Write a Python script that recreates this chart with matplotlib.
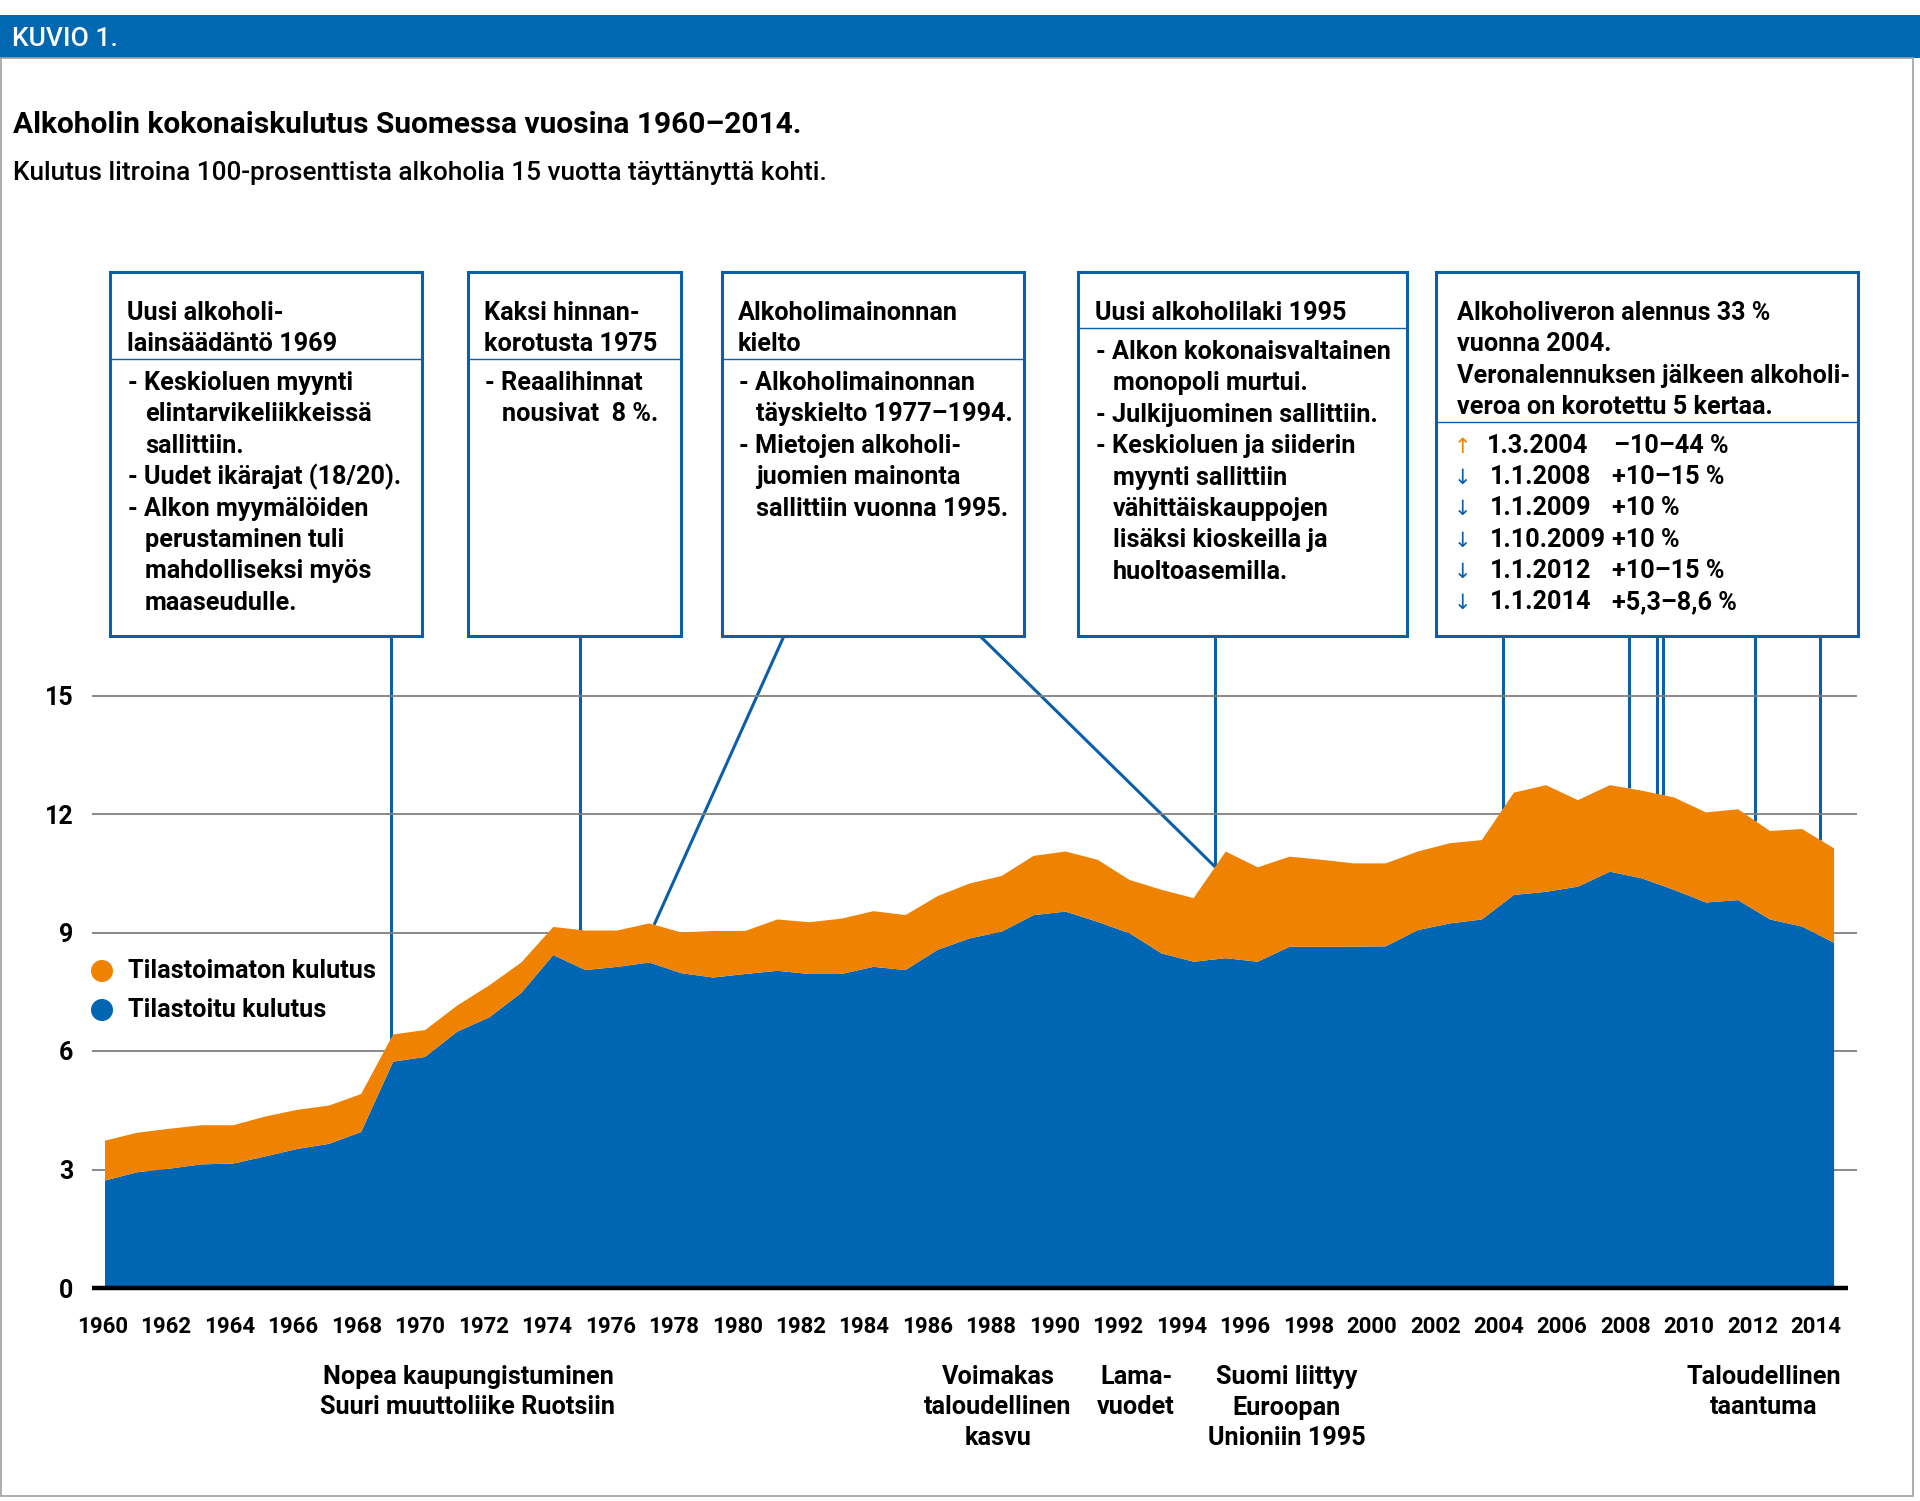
import numpy as np
import matplotlib
matplotlib.use("Agg")
import matplotlib.pyplot as plt
from matplotlib.patches import Rectangle, Circle

# ---------------- data ----------------
years = list(range(1960, 2015))
tilastoitu = [2.72, 2.93, 3.02, 3.13, 3.15, 3.33, 3.52, 3.65, 3.95, 5.73,
              5.85, 6.49, 6.85, 7.47, 8.43, 8.05, 8.13, 8.24, 7.97, 7.86,
              7.95, 8.03, 7.95, 7.95, 8.13, 8.05, 8.56, 8.85, 9.02, 9.44,
              9.53, 9.27, 8.98, 8.47, 8.26, 8.35, 8.26, 8.64, 8.64, 8.64,
              8.65, 9.06, 9.23, 9.33, 9.95, 10.03, 10.16, 10.54, 10.37, 10.08,
              9.76, 9.82, 9.33, 9.15, 8.74]
tilastoimaton = [1.01, 1.00, 1.01, 0.99, 0.97, 1.01, 0.99, 0.97, 0.96, 0.69,
                 0.68, 0.66, 0.81, 0.77, 0.71, 1.00, 0.92, 0.99, 1.03, 1.18,
                 1.09, 1.30, 1.31, 1.40, 1.41, 1.39, 1.36, 1.39, 1.41, 1.50,
                 1.52, 1.57, 1.35, 1.61, 1.61, 2.70, 2.39, 2.28, 2.20, 2.11,
                 2.10, 1.99, 2.03, 2.01, 2.59, 2.70, 2.19, 2.19, 2.22, 2.34,
                 2.28, 2.30, 2.24, 2.47, 2.39]
series_labels = ["Tilastoimaton kulutus", "Tilastoitu kulutus"]
y_ticks = [0, 3, 6, 9, 12, 15]
x_tick_years = list(range(1960, 2015, 2))

title = "Alkoholin kokonaiskulutus Suomessa vuosina 1960\u20132014."
subtitle = "Kulutus litroina 100-prosenttista alkoholia 15 vuotta t\u00e4ytt\u00e4nytt\u00e4 kohti."

box_titles = [
    ["Uusi alkoholi-", "lains\u00e4\u00e4d\u00e4nt\u00f6 1969"],
    ["Kaksi hinnan-", "korotusta 1975"],
    ["Alkoholimainonnan", "kielto"],
    ["Uusi alkoholilaki 1995"],
    ["Alkoholiveron alennus 33 %", "vuonna 2004.",
     "Veronalennuksen j\u00e4lkeen alkoholi-", "veroa on korotettu 5 kertaa."],
]
box_bodies = [
    [("- Keskioluen myynti", 0), ("elintarvikeliikkeiss\u00e4", 1), ("sallittiin.", 1),
     ("- Uudet ik\u00e4rajat (18/20).", 0), ("- Alkon myym\u00e4l\u00f6iden", 0),
     ("perustaminen tuli", 1), ("mahdolliseksi my\u00f6s", 1), ("maaseudulle.", 1)],
    [("- Reaalihinnat", 0), ("nousivat  8 %.", 1)],
    [("- Alkoholimainonnan", 0), ("t\u00e4yskielto 1977\u20131994.", 1),
     ("- Mietojen alkoholi-", 0), ("juomien mainonta", 1), ("sallittiin vuonna 1995.", 1)],
    [("- Alkon kokonaisvaltainen", 0), ("monopoli murtui.", 1),
     ("- Julkijuominen sallittiin.", 0), ("- Keskioluen ja siiderin", 0),
     ("myynti sallittiin", 1), ("v\u00e4hitt\u00e4iskauppojen", 1),
     ("lis\u00e4ksi kioskeilla ja", 1), ("huoltoasemilla.", 1)],
]
tax_dates = ["1.3.2004", "1.1.2008", "1.1.2009", "1.10.2009", "1.1.2012", "1.1.2014"]
tax_changes = ["\u201310\u201344 %", "+10\u201315 %", "+10 %", "+10 %", "+10\u201315 %", "+5,3\u20138,6 %"]
tax_down = [False, True, True, True, True, True]

bottom_notes = [
    (["Nopea kaupungistuminen", "Suuri muuttoliike Ruotsiin"], 468),
    (["Voimakas", "taloudellinen", "kasvu"], 998),
    (["Lama-", "vuodet"], 1136),
    (["Suomi liittyy", "Euroopan", "Unioniin 1995"], 1287),
    (["Taloudellinen", "taantuma"], 1764),
]
# connector lines: (x of top end in px or None for vertical, year position on data)
connectors = [(None, 1968.93), (None, 1974.85), (784, 1977.15), (980, 1994.67),
              (None, 1994.67), (None, 2003.66), (None, 2007.60), (None, 2008.47),
              (None, 2008.66), (None, 2011.53), (None, 2013.56)]

# ---------------- style ----------------
BLUE = "#0066B3"
ORANGE = "#EF8200"
LINE_BLUE = "#0B5FA8"
FONT = ["Roboto", "DejaVu Sans"]
plt.rcParams["font.family"] = FONT
MED = "medium"
BOLD = "bold"

W, H = 1920, 1501
fig = plt.figure(figsize=(W / 100, H / 100), dpi=100)
fig.patch.set_facecolor("white")

ov = fig.add_axes([0, 0, 1, 1])
ov.set_xlim(0, W)
ov.set_ylim(H, 0)
ov.axis("off")

PX_PER_YEAR = 32.02
X0_PX = 105.0
Y0_PX = 1288.0
PX_PER_UNIT = 39.5
ax_left_px, ax_right_px, ax_top_px = 91.5, 1857.0, 680.0
ax = fig.add_axes([ax_left_px / W, (H - Y0_PX) / H,
                   (ax_right_px - ax_left_px) / W, (Y0_PX - ax_top_px) / H])
ax.set_xlim(1960 + (ax_left_px - X0_PX) / PX_PER_YEAR,
            1960 + (ax_right_px - X0_PX) / PX_PER_YEAR)
ax.set_ylim(0, (Y0_PX - ax_top_px) / PX_PER_UNIT)
ax.patch.set_alpha(0)
for s in ax.spines.values():
    s.set_visible(False)

ax.stackplot(years, tilastoitu, tilastoimaton, colors=[BLUE, ORANGE],
             linewidth=0, zorder=2)
for v in y_ticks[1:]:
    ax.axhline(v, color="#808080", lw=1.3, zorder=1)
ax.plot([0, (1848 - ax_left_px) / (ax_right_px - ax_left_px)], [0, 0],
        transform=ax.get_yaxis_transform(), color="black", lw=3.2,
        solid_capstyle="butt", clip_on=False, zorder=3)

ax.set_yticks(y_ticks)
ax.set_yticklabels([str(v) for v in y_ticks], fontsize=18, fontweight=BOLD)
label_pos = [1960 + (y - 1960) * 0.991 - 0.08 for y in x_tick_years]
ax.set_xticks(label_pos)
ax.set_xticklabels([str(y) for y in x_tick_years], fontsize=16, fontweight=BOLD)
ax.tick_params(axis="both", length=0)
ax.tick_params(axis="y", pad=13)
ax.tick_params(axis="x", pad=20)

total = np.array(tilastoitu) + np.array(tilastoimaton)

def data_to_px(x, y):
    d = ax.transData.transform((x, y))
    return d[0], H - d[1]

BOX_TOP, BOX_BOT = 272, 636
for top_x, yr in connectors:
    val = np.interp(yr, years, total)
    bx, by = data_to_px(yr, val)
    tx = bx if top_x is None else top_x
    ov.plot([tx, bx], [BOX_BOT, by], color=LINE_BLUE, lw=2.2,
            solid_capstyle="butt", zorder=5)

# ---------------- header & titles ----------------
ov.add_patch(Rectangle((0, 15), W, 43, facecolor="#0067B1", edgecolor="none", zorder=1))
ov.add_patch(Rectangle((1, 58), 1912, 1438, facecolor="none", edgecolor="#a0a0a0",
                       lw=1.2, zorder=1))
ov.text(12, 39, "KUVIO 1.", color="white", fontsize=19, fontweight=MED,
        va="center", ha="left")
ov.text(13, 133, title, fontsize=21.5, fontweight=BOLD, va="baseline", ha="left")
ov.text(13, 180, subtitle, fontsize=18.9, fontweight=MED, va="baseline", ha="left")

# ---------------- annotation boxes ----------------
TXT = 18.2
LS = 31.4
boxes_x = [(110, 422), (468, 681), (722, 1024), (1078, 1407), (1436, 1858)]
text_x = [127, 484, 738, 1095, 1457]
sep_y = [359, 359, 359, 328, 422]
for i, (x0, x1) in enumerate(boxes_x):
    ov.add_patch(Rectangle((x0, BOX_TOP), x1 - x0, BOX_BOT - BOX_TOP,
                           facecolor="white", edgecolor=LINE_BLUE, lw=2.2, zorder=6))
    ov.plot([x0, x1], [sep_y[i], sep_y[i]], color=LINE_BLUE, lw=1.0, zorder=7)
    for j, t in enumerate(box_titles[i]):
        ov.text(text_x[i], 320 + j * LS, t, fontsize=TXT, fontweight=BOLD,
                va="baseline", ha="left", zorder=8)
    if i < 4:
        b0 = sep_y[i] + 31
        for j, (t, ind) in enumerate(box_bodies[i]):
            ov.text(text_x[i] + 1 + ind * 17, b0 + j * LS, t, fontsize=TXT,
                    fontweight=BOLD, va="baseline", ha="left", zorder=8)

for j, (d, c, down) in enumerate(zip(tax_dates, tax_changes, tax_down)):
    yb = 453 + j * 31.2
    ov.text(1462, yb, "\u2193" if down else "\u2191", fontsize=15,
            color=LINE_BLUE if down else ORANGE, ha="center", va="baseline",
            family=["DejaVu Sans"], zorder=8)
    ov.text(1487 if not down else 1490, yb, d, fontsize=TXT, fontweight=BOLD,
            ha="left", va="baseline", zorder=8)
    ov.text(1614 if not down else 1612, yb, c, fontsize=TXT, fontweight=BOLD,
            ha="left", va="baseline", zorder=8)

# ---------------- legend ----------------
for k, (lab, col) in enumerate(zip(series_labels, [ORANGE, BLUE])):
    cy = 971 + k * 39
    ov.add_patch(Circle((102, cy), 11, facecolor=col, edgecolor="none", zorder=6))
    ov.text(128, cy, lab, fontsize=TXT, fontweight=BOLD, va="center", ha="left", zorder=6)

# ---------------- bottom notes ----------------
for lines, cx in bottom_notes:
    for j, t in enumerate(lines):
        ov.text(cx, 1384 + j * 30.5, t, fontsize=18.2, fontweight=BOLD,
                ha="center", va="baseline")

fig.savefig("out.png", dpi=100, facecolor="white")
